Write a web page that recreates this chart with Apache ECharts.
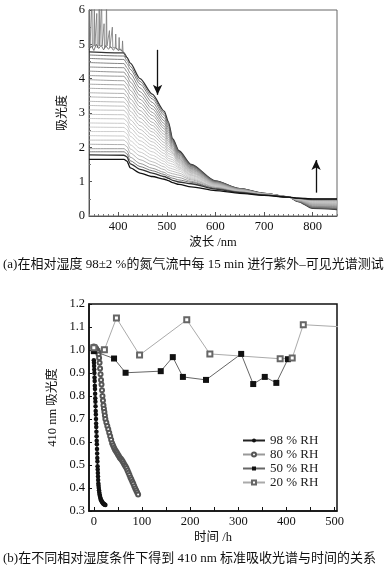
<!DOCTYPE html>
<html><head><meta charset="utf-8">
<script src="https://cdn.jsdelivr.net/npm/echarts@6/dist/echarts.min.js"></script>
<style>html,body{margin:0;padding:0;background:#fff}#c{width:392px;height:573px}</style>
</head><body><div id="c"></div>
<script>
// ---------- (a) spectra ----------
const wavelengths = [340, 412, 418, 425, 445, 470, 495, 503, 512, 525, 550, 600, 650, 700, 750, 770, 800, 850];
const spectra = [
  [4.78,4.75,4.62,4.45,4.00,3.55,3.05,2.75,2.25,1.90,1.50,1.02,0.80,0.66,0.56,0.42,0.22,0.19],
  [4.69,4.66,4.53,4.36,3.92,3.48,2.99,2.70,2.23,1.88,1.49,1.02,0.80,0.66,0.56,0.42,0.23,0.20],
  [4.59,4.56,4.44,4.27,3.84,3.41,2.93,2.65,2.20,1.86,1.48,1.01,0.80,0.66,0.56,0.43,0.24,0.21],
  [4.47,4.44,4.32,4.15,3.73,3.31,2.85,2.58,2.17,1.84,1.46,1.00,0.79,0.66,0.56,0.43,0.25,0.22],
  [4.34,4.32,4.20,4.02,3.62,3.21,2.77,2.51,2.14,1.82,1.44,1.00,0.79,0.66,0.56,0.43,0.26,0.23],
  [4.22,4.19,4.08,3.90,3.51,3.12,2.69,2.44,2.11,1.79,1.43,0.99,0.78,0.65,0.56,0.44,0.27,0.25],
  [4.09,4.07,3.96,3.78,3.40,3.02,2.61,2.37,2.07,1.77,1.41,0.98,0.78,0.65,0.56,0.44,0.28,0.26],
  [3.97,3.94,3.84,3.66,3.29,2.93,2.54,2.30,2.04,1.74,1.39,0.97,0.78,0.65,0.56,0.45,0.29,0.27],
  [3.84,3.82,3.71,3.54,3.18,2.83,2.46,2.23,2.00,1.71,1.38,0.97,0.77,0.65,0.56,0.45,0.30,0.28],
  [3.72,3.70,3.59,3.41,3.07,2.73,2.38,2.17,1.97,1.68,1.36,0.96,0.77,0.65,0.56,0.45,0.32,0.30],
  [3.59,3.57,3.47,3.29,2.96,2.64,2.30,2.10,1.93,1.66,1.34,0.95,0.77,0.65,0.56,0.46,0.33,0.31],
  [3.47,3.45,3.35,3.17,2.85,2.54,2.22,2.03,1.89,1.63,1.32,0.94,0.76,0.64,0.56,0.46,0.34,0.32],
  [3.34,3.32,3.23,3.05,2.74,2.45,2.14,1.96,1.85,1.60,1.30,0.93,0.76,0.64,0.55,0.47,0.35,0.33],
  [3.22,3.20,3.11,2.93,2.63,2.35,2.06,1.89,1.82,1.57,1.28,0.93,0.75,0.64,0.55,0.47,0.36,0.35],
  [3.09,3.08,2.99,2.80,2.52,2.25,1.98,1.82,1.77,1.54,1.26,0.92,0.75,0.64,0.55,0.47,0.37,0.36],
  [2.96,2.95,2.87,2.68,2.41,2.16,1.90,1.75,1.70,1.50,1.24,0.91,0.74,0.64,0.55,0.48,0.38,0.37],
  [2.84,2.83,2.75,2.56,2.30,2.06,1.82,1.68,1.64,1.47,1.21,0.90,0.74,0.63,0.55,0.48,0.39,0.38],
  [2.71,2.70,2.63,2.44,2.19,1.97,1.74,1.62,1.58,1.43,1.19,0.89,0.73,0.63,0.55,0.49,0.40,0.39],
  [2.59,2.58,2.51,2.32,2.08,1.87,1.66,1.55,1.51,1.40,1.17,0.88,0.73,0.63,0.55,0.49,0.42,0.41],
  [2.46,2.46,2.39,2.19,1.97,1.77,1.59,1.48,1.44,1.36,1.14,0.87,0.72,0.63,0.55,0.49,0.43,0.42],
  [2.34,2.33,2.26,2.07,1.86,1.68,1.51,1.41,1.37,1.31,1.11,0.85,0.72,0.62,0.55,0.50,0.44,0.43],
  [2.21,2.21,2.14,1.95,1.75,1.58,1.43,1.34,1.30,1.25,1.08,0.84,0.71,0.62,0.55,0.50,0.45,0.44],
  [2.09,2.08,2.02,1.83,1.64,1.49,1.35,1.27,1.23,1.19,1.05,0.83,0.70,0.62,0.55,0.51,0.46,0.46],
  [1.96,1.96,1.90,1.71,1.53,1.39,1.27,1.20,1.16,1.12,1.01,0.81,0.70,0.62,0.55,0.51,0.47,0.47],
  [1.87,1.87,1.81,1.61,1.44,1.32,1.21,1.15,1.10,1.05,0.98,0.80,0.69,0.61,0.55,0.51,0.48,0.48],
  [1.78,1.77,1.72,1.52,1.36,1.25,1.15,1.10,1.04,0.99,0.94,0.78,0.68,0.61,0.55,0.52,0.49,0.49],
  [1.65,1.65,1.60,1.40,1.25,1.15,1.07,1.03,0.97,0.92,0.85,0.74,0.66,0.60,0.55,0.52,0.50,0.50]
];
const noiseWlA  = [340,341,342,345,346,347,350,351,352,355,356,357,360,361,362,365,366,367,370,371,372,375,376,377,381,382,383,387,388,389,394,395,396,401,402,403,408,409,410,416];
const noiseAbsA = [4.9,6.3,4.9,4.95,6.3,4.9,5.0,6.3,4.95,4.9,5.9,4.9,5.0,6.3,4.95,4.9,6.3,4.95,5.0,5.6,4.9,5.0,6.3,4.95,4.9,5.4,4.9,4.9,5.5,4.9,4.9,5.3,4.88,4.85,5.2,4.85,4.8,5.1,4.8,4.65];
const noiseWlB  = [340,345,350,355,360,365,370,375,380,385,390,395,400,405,410,416];
const noiseAbsB = [4.85,4.95,4.82,5.0,4.88,4.97,4.84,4.95,4.86,4.93,4.83,4.9,4.82,4.86,4.78,4.62];
const arrowDown = [[481, 4.84], [481, 3.53]];
const arrowUp   = [[807, 0.68], [807, 1.63]];
const specXLabels = [400, 500, 600, 700, 800];
const specXMinor = [];
for (let w = 340; w <= 850; w += 10) specXMinor.push(w);

// ---------- (b) 410 nm absorbance vs time ----------
const seriesNames = ['98 % RH', '80 % RH', '50 % RH', '20 % RH'];
const rh98 = [[0,0.955],[0.3,0.945],[0.6,0.93],[0.9,0.915],[1.2,0.9],[1.5,0.88],[1.8,0.865],[2.1,0.845],[2.4,0.83],[2.7,0.81],[3,0.79],[3.3,0.775],[3.6,0.755],[3.9,0.735],[4.2,0.72],[4.5,0.7],[4.8,0.68],[5.1,0.665],[5.4,0.645],[5.7,0.625],[6,0.605],[6.3,0.59],[6.6,0.57],[6.9,0.55],[7.2,0.53],[7.5,0.515],[7.8,0.495],[8.1,0.48],[8.4,0.465],[8.7,0.45],[9,0.435],[9.4,0.42],[9.8,0.41],[10.3,0.4],[10.8,0.39],[11.4,0.38],[12,0.372],[12.7,0.365],[13.5,0.358],[14.3,0.352],[15.2,0.347],[16.1,0.343],[17,0.34],[18,0.337],[19,0.334],[20,0.332],[21,0.33],[22,0.328],[23,0.327],[24,0.326]];
const rh80 = [[-1,1.012],[0,1.015],[1,1.013],[2,1.012],[3,1.01],[4,1.008],[5,1.005],[6,1.0],[7,0.998],[8,0.995],[9,0.99],[10,0.98],[11,0.965],[12,0.945],[13,0.92],[14,0.895],[15,0.87],[16,0.85],[17,0.825],[18,0.8],[19,0.78],[20,0.76],[21,0.745],[22,0.73],[23,0.715],[24,0.7],[26,0.685],[28,0.67],[30,0.655],[32,0.64],[34,0.625],[36,0.61],[38,0.595],[40,0.585],[42,0.575],[44,0.566],[46,0.56],[48,0.553],[50,0.546],[52,0.539],[54,0.532],[56,0.527],[58,0.522],[60,0.515],[62,0.508],[64,0.5],[66,0.493],[68,0.486],[70,0.476],[72,0.466],[74,0.456],[76,0.446],[78,0.437],[80,0.427],[82,0.418],[84,0.408],[86,0.398],[88,0.389],[90,0.38],[92,0.372]];
const rh50 = [[0,0.995],[42,0.963],[66,0.901],[139,0.908],[164,0.969],[185,0.883],[233,0.87],[306,0.983],[331,0.852],[355,0.883],[379,0.857],[403,0.96]];
const rh20 = [[0,1.01],[22,1.001],[47,1.139],[95,0.978],[193,1.131],[241,0.983],[387,0.962],[412,0.965],[435,1.11],[520,1.1]];
const timeTicks = [0,50,100,150,200,250,300,350,400,450,500];
const timeLabels = [0,100,200,300,400,500];

// ---------- styles ----------
const serif = "'Liberation Serif','Noto Sans CJK SC',serif";
const cjk = "'Noto Sans CJK SC','Liberation Serif',sans-serif";
const specColors = ['#333','#555','#5e5e5e','#676767','#707070','#797979','#828282','#8a8a8a','#919191','#989898','#9e9e9e','#a4a4a4','#aaaaaa','#afafaf','#b3b3b3','#b7b7b7','#bababa','#bdbdbd','#bfbfbf','#c1c1c1','#bcbcbc','#b0b0b0','#9c9c9c','#808080','#5a5a5a','#333','#111'];

const chart = echarts.init(document.getElementById('c'), null, {renderer: 'canvas'});

const specSeries = spectra.map((s, i) => ({
  type: 'line', xAxisIndex: 0, yAxisIndex: 0,
  data: wavelengths.map((w, j) => [w, s[j]]),
  showSymbol: false, smooth: 0.25, smoothMonotone: 'x',
  lineStyle: {color: specColors[i], width: (i === 0 || i >= 25) ? 1.3 : 0.8},
  z: 2, silent: true
}));

const noiseSeries = [
  {wl: noiseWlA, abs: noiseAbsA, color: '#777'},
  {wl: noiseWlB, abs: noiseAbsB, color: '#555'}
].map((n, k) => ({
  type: 'line', xAxisIndex: 0, yAxisIndex: 0,
  data: n.wl.map((w, j) => [w, n.abs[j]]),
  showSymbol: false, lineStyle: {color: n.color, width: 0.8}, silent: true,
  markLine: k === 0 ? {
    silent: true, symbol: ['none', 'arrow'], symbolSize: [7, 10],
    lineStyle: {color: '#111', width: 1.3, type: 'solid'}, label: {show: false},
    data: [
      [{coord: arrowDown[0]}, {coord: arrowDown[1]}],
      [{coord: arrowUp[0]}, {coord: arrowUp[1]}]
    ]
  } : undefined
}));

const timeSeries = [
  {name: seriesNames[0], data: rh98, symbol: 'circle', symbolSize: 4.5, itemStyle: {color: '#111'}, lineStyle: {color: '#222', width: 1}},
  {name: seriesNames[1], data: rh80, symbol: 'emptyCircle', symbolSize: 4, itemStyle: {color: '#555', borderWidth: 1}, lineStyle: {color: '#999', width: 1}},
  {name: seriesNames[2], data: rh50, symbol: 'rect', symbolSize: 6, itemStyle: {color: '#111'}, lineStyle: {color: '#666', width: 1}},
  {name: seriesNames[3], data: rh20, symbol: 'emptyRect', symbolSize: 5, itemStyle: {color: '#666', borderWidth: 1}, lineStyle: {color: '#aaa', width: 1}}
].map(s => Object.assign({type: 'line', xAxisIndex: 2, yAxisIndex: 1, showSymbol: true, showAllSymbol: true, z: 3}, s));

const tickLabel = {fontFamily: serif, fontSize: 12.5, color: '#111'};

chart.setOption({
  animation: false,
  backgroundColor: '#fff',
  grid: [
    {left: 89, right: 55, top: 10, bottom: 357, show: true, borderColor: '#666', borderWidth: 1},
    {left: 89, right: 55, top: 304, bottom: 62, show: true, borderColor: '#111', borderWidth: 1.5}
  ],
  xAxis: [
    {type: 'value', gridIndex: 0, min: 340, max: 850,
     name: '波长 /nm', nameLocation: 'middle', nameGap: 20,
     nameTextStyle: {fontFamily: serif, fontSize: 12.5, color: '#111'},
     axisLine: {show: true, onZero: false, lineStyle: {color: '#555'}},
     axisTick: {show: true, inside: true, length: 2, customValues: specXMinor, lineStyle: {color: '#777'}},
     axisLabel: {customValues: specXLabels, margin: 4, ...tickLabel},
     splitLine: {show: false}},
    {type: 'value', gridIndex: 0, min: 340, max: 850, position: 'bottom',
     axisLine: {show: false, onZero: false},
     axisTick: {show: true, inside: true, length: 4, customValues: specXLabels, lineStyle: {color: '#555'}},
     axisLabel: {show: false}, splitLine: {show: false}},
    {type: 'value', gridIndex: 1, min: -10, max: 505,
     name: '时间 /h', nameLocation: 'middle', nameGap: 20,
     nameTextStyle: {fontFamily: serif, fontSize: 12.5, color: '#111'},
     axisLine: {show: true, onZero: false, lineStyle: {color: '#111', width: 1.5}},
     axisTick: {show: true, inside: true, length: 4, customValues: timeTicks, lineStyle: {color: '#111'}},
     axisLabel: {customValues: timeLabels, margin: 4, ...tickLabel},
     splitLine: {show: false}}
  ],
  yAxis: [
    {type: 'value', gridIndex: 0, min: 0, max: 6, interval: 1,
     name: '吸光度', nameLocation: 'middle', nameGap: 20, nameRotate: 90,
     nameTextStyle: {fontFamily: cjk, fontSize: 12, color: '#111'},
     axisLine: {show: true, onZero: false, lineStyle: {color: '#555'}},
     axisTick: {show: true, inside: true, length: 3, lineStyle: {color: '#555'}},
     minorTick: {show: true, splitNumber: 2, length: 2, lineStyle: {color: '#777'}},
     axisLabel: {margin: 4, ...tickLabel},
     splitLine: {show: false}},
    {type: 'value', gridIndex: 1, min: 0.3, max: 1.2, interval: 0.1,
     name: '410 nm 吸光度', nameLocation: 'middle', nameGap: 25, nameRotate: 90,
     nameTextStyle: {fontFamily: serif, fontSize: 12.5, color: '#111'},
     axisLine: {show: true, onZero: false, lineStyle: {color: '#111', width: 1.5}},
     axisTick: {show: true, inside: true, length: 3, lineStyle: {color: '#111'}},
     axisLabel: {margin: 4, formatter: v => v.toFixed(1), ...tickLabel},
     splitLine: {show: false}}
  ],
  legend: {
    data: seriesNames, orient: 'vertical', left: 237, top: 429,
    itemWidth: 22, itemHeight: 5, itemGap: 1,
    textStyle: {fontFamily: serif, fontSize: 13, color: '#222', lineHeight: 10.5}
  },
  graphic: [
    {type: 'text', left: 3, top: 258, style: {text: '(a)在相对湿度 98±2 %的氮气流中每 15 min 进行紫外–可见光谱测试', font: "13px 'Liberation Serif','Noto Sans CJK SC'", fill: '#111'}},
    {type: 'text', left: 3, top: 552, style: {text: '(b)在不同相对湿度条件下得到 410 nm 标准吸收光谱与时间的关系', font: "13px 'Liberation Serif','Noto Sans CJK SC'", fill: '#111'}}
  ],
  series: [...specSeries, ...noiseSeries, ...timeSeries]
});
</script>
</body></html>
